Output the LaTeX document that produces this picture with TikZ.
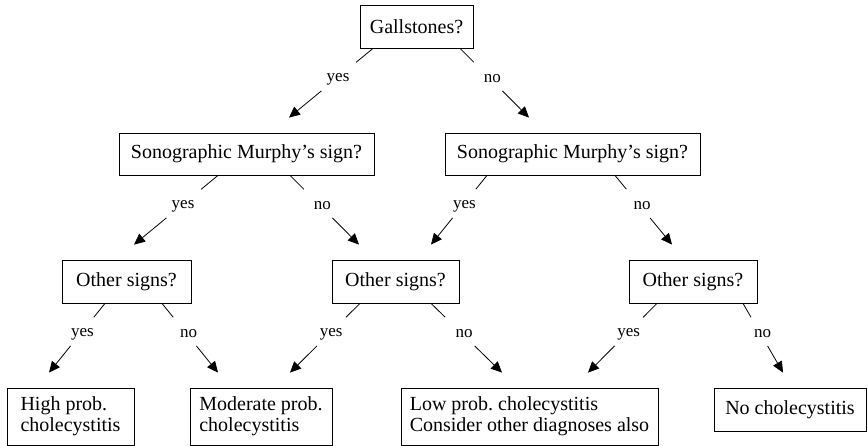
\documentclass[tikz,border=0pt]{standalone}
\usepackage{fontspec}
\setmainfont{Liberation Serif}
\usetikzlibrary{arrows.meta,calc}
\newcommand\treeedge[6]{%
  \coordinate (s#6) at ($(#1.south)+(#3,0)$);
  \coordinate (t#6) at ($(#2.north)+(#4,-15)$);
  \draw[ln] (s#6) -- ($(s#6)!0.2!(t#6)$);
  \draw[arr] ($(s#6)!0.615!(t#6)$) -- (t#6);
  \node[lab] (l#6) at ($(s#6)!0.44!(t#6)+(2,0)$) {#5};
}
\begin{document}
\begin{tikzpicture}[x=1pt,y=-1pt,
  box/.style={draw,line width=0.8pt,inner sep=0pt,font=\fontsize{20}{21}\selectfont},
  leaf/.style={box,align=left,minimum height=57pt},
  lab/.style={font=\fontsize{17}{17}\selectfont,inner sep=0pt},
  ln/.style={line width=0.8pt},
  arr/.style={line width=0.8pt,-{Triangle[length=11pt,width=10pt]}}]
\useasboundingbox (0,0) rectangle (868,446);
\node[box,minimum width=113pt,minimum height=43pt] (gall) at (416.5,26.5) {Gallstones?};
\node[box,minimum width=255pt,minimum height=42pt] (sonoL) at (246.5,154) {Sonographic Murphy’s sign?};
\node[box,minimum width=255pt,minimum height=42pt] (sonoR) at (572.5,154) {Sonographic Murphy’s sign?};
\node[box,minimum width=129pt,minimum height=43pt] (otherL) at (126.5,281.5) {Other signs?};
\node[box,minimum width=127pt,minimum height=43pt] (otherM) at (395.5,281.5) {Other signs?};
\node[box,minimum width=128pt,minimum height=43pt] (otherR) at (693,281.5) {Other signs?};
\node[leaf,minimum width=127pt] (high) at (70.5,416.5) {High prob.\\cholecystitis};
\node[leaf,minimum width=142pt] (mod) at (261,416.5) {Moderate prob.\\cholecystitis};
\node[leaf,minimum width=257pt] (low) at (529.5,416.5) {Low prob.\ cholecystitis\\Consider other diagnoses also};
\node[box,minimum width=152pt,minimum height=43pt] (no) at (790,409.5) {No cholecystitis};
\treeedge{gall}{sonoL}{-43.5}{42.5}{yes}{1}
\treeedge{gall}{sonoR}{43.5}{-43.5}{no}{2}
\treeedge{sonoL}{otherL}{-28.5}{7.5}{yes}{3}
\treeedge{sonoL}{otherM}{43.5}{-36.5}{no}{4}
\treeedge{sonoR}{otherM}{-85.5}{35.5}{yes}{5}
\treeedge{sonoR}{otherR}{42.5}{-21}{no}{6}
\treeedge{otherL}{high}{-21.5}{-21.5}{yes}{7}
\treeedge{otherL}{mod}{35.5}{-43}{no}{8}
\treeedge{otherM}{mod}{-35.5}{29}{yes}{9}
\treeedge{otherM}{low}{35.5}{-27.5}{no}{10}
\treeedge{otherR}{low}{-36}{58.5}{yes}{11}
\treeedge{otherR}{no}{50}{-7}{no}{12}
\end{tikzpicture}
\end{document}
